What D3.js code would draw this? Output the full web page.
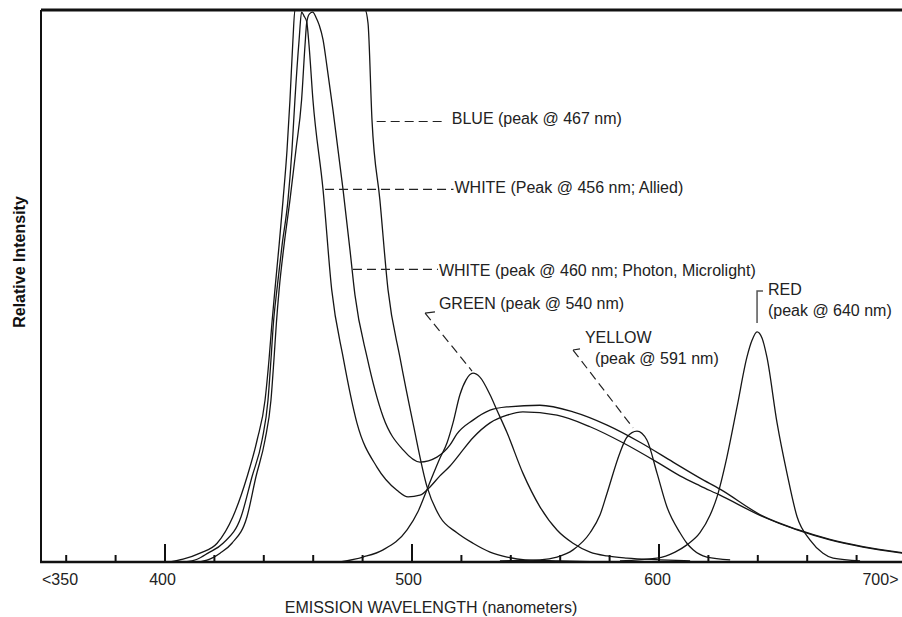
<!DOCTYPE html>
<html>
<head>
<meta charset="utf-8">
<script src="https://cdn.jsdelivr.net/npm/d3@7"></script>
<style>
  body { margin: 0; background: #fff; }
  svg { display: block; font-family: "Liberation Sans", Arial, sans-serif; }
</style>
</head>
<body>
<div id="vis"></div>
<script>
// [wavelength nm, relative intensity]  (100 = top of the frame, blue is clipped there)
const blue = [
  [402.2, 0], [407.5, 0.5], [414.4, 1.6], [421.3, 3.4], [427.7, 8.2], [433.4, 15.4], [437.5, 22.1],
  [440.7, 29.3], [442.3, 36.6], [443.5, 43.3], [444.7, 49.3], [446.4, 57.4], [448.0, 65.6], [449.6, 74.6],
  [450.8, 83.7], [452.0, 94.6], [452.8, 100], [467, 100], [481.2, 100], [482.4, 97.6], [484.0, 80.1],
  [487.2, 65.6], [490.5, 49.3], [495.3, 37.1], [500.6, 25.2], [506.3, 13.6], [511.5, 8.2], [518.4, 5.3],
  [524.9, 3.4], [531.8, 1.8], [538.7, 0.9], [546.0, 0.4], [560.1, 0.2], [576.3, 0]
];
const whiteAllied = [
  [408.3, 0], [413.2, 0.5], [417.6, 1.6], [423.7, 3.4], [431.0, 8.2], [435.4, 15.4], [439.5, 22.1],
  [441.9, 29.3], [443.1, 36.6], [444.1, 43.3], [445.5, 49.3], [447.6, 57.4], [450.0, 65.6], [451.6, 74.6],
  [452.8, 83.7], [454.5, 94.6], [455.5, 99.6], [456.5, 98.9], [457.6, 97.8], [458.5, 93.7], [460.1, 83.7],
  [464.2, 67.4], [467.7, 49.3], [472.3, 37.1], [477.9, 25.2], [486.0, 17.2], [494.1, 13.0], [498.6, 11.8],
  [503.4, 12.1], [507.5, 13.6], [511.5, 15.6], [515.6, 17.4], [519.6, 19.6], [524.9, 22.5], [531.8, 25.2],
  [538.7, 26.6], [545.1, 27.2], [558.9, 26.6], [572.3, 24.5], [585.6, 21.6], [599.4, 18.1], [608.7, 15.6],
  [616.8, 13.8], [624.9, 12.1], [642.3, 8.2], [656.1, 5.8], [669.4, 4.0], [682.8, 2.7], [698.6, 1.6]
];
const whitePhoton = [
  [414.4, 0], [419.2, 0.7], [422.5, 1.6], [427.3, 3.4], [433.4, 8.2], [437.0, 15.4], [440.7, 22.1],
  [443.1, 29.3], [444.3, 36.6], [445.3, 43.3], [446.4, 49.3], [448.4, 57.4], [450.8, 65.6], [453.2, 74.6],
  [455.5, 83.7], [456.9, 93.7], [457.6, 97.8], [458.7, 99.3], [460.0, 99.6], [461.3, 98.7], [462.6, 97.3],
  [464.2, 94.6], [465.8, 89.7], [468.2, 81.9], [472.3, 67.4], [475.1, 56.5], [477.1, 48.4], [482.0, 37.1],
  [488.5, 26.3], [496.6, 20.3], [503.4, 18.1], [510.3, 19.0], [515.6, 21.2], [518.4, 23.2], [524.9, 25.7],
  [531.8, 27.5], [538.7, 28.1], [552.0, 28.4], [565.4, 27.2], [579.2, 24.8], [592.5, 21.7], [605.9, 18.1],
  [616.8, 15.2], [624.9, 13.2], [642.3, 8.3], [656.1, 5.9], [669.4, 4.1], [682.8, 2.8], [698.6, 1.7]
];
const green = [
  [471.1, 0], [480.4, 0.9], [488.5, 2.2], [498.2, 5.8], [502.6, 9.1], [506.7, 13.6], [511.5, 18.8],
  [514.4, 21.6], [516.8, 25.2], [519.6, 30.3], [522.1, 33.0], [524.9, 34.2], [527.7, 33.5], [531.8, 30.3],
  [534.6, 27.5], [538.7, 23.4], [545.1, 16.1], [552.0, 10.0], [558.9, 5.8], [565.4, 3.4], [572.3, 1.8],
  [579.2, 1.1], [587.2, 0.7], [600.6, 0.4], [612.8, 0.2]
];
const yellow = [
  [535.8, 0.2], [552.0, 0.4], [558.9, 0.9], [565.4, 2.2], [572.3, 5.3], [576.3, 8.5], [579.2, 12.5],
  [584.4, 19.8], [587.2, 22.6], [591.3, 23.7], [595.3, 22.1], [599.4, 16.1], [603.4, 10.0], [608.7, 5.3],
  [611.5, 3.4], [614.0, 2.2], [619.6, 0.9], [629.0, 0.4]
];
const red = [
  [584.4, 0.2], [599.4, 0.7], [606.7, 1.8], [611.5, 3.1], [616.8, 5.3], [620.9, 8.5], [623.7, 11.8],
  [627.7, 19.0], [631.8, 28.1], [635.8, 37.1], [637.9, 40.2], [639.9, 41.7], [641.9, 40.6], [643.9, 37.1],
  [648.0, 25.2], [652.0, 16.1], [656.1, 8.2], [661.3, 4.0], [666.6, 1.6], [670.7, 0.7], [681.6, 0.2]
];

const majorTicks = [400, 500, 600];
const minorTicks = [360, 380, 420, 440, 460, 480, 520, 540, 560, 580, 620, 640, 660, 680];
const tickValues = [350, 400, 500, 600, 700];
const tickLabels = ["<350", "400", "500", "600", "700>"];

// callouts: leader (nm, intensity) and label lines
const notes = [
  { leader: [[485.9, 79.8], [512.2, 79.8]], dashed: true, at: [516.3, 79.4], lines: ["BLUE (peak @ 467 nm)"] },
  { leader: [[465.0, 67.5], [517.0, 67.5]], dashed: true, at: [517.4, 66.9], lines: ["WHITE (Peak @ 456 nm; Allied)"] },
  { leader: [[476.3, 53.0], [510.7, 53.0]], dashed: true, at: [511.1, 51.9], lines: ["WHITE (peak @ 460 nm; Photon, Microlight)"] },
  { leader: [[505.5, 45.1], [524.5, 34.6]], hook: [[505.5, 45.1], [509.5, 45.3]], dashed: true, at: [511.1, 45.8], lines: ["GREEN (peak @ 540 nm)"] },
  { leader: [[565.4, 38.4], [589.7, 24.3]], hook: [[565.4, 38.4], [568.2, 38.6]], dashed: true, at: [570.2, 39.7], lines: ["YELLOW", "(peak @ 591 nm)"], indent: [0, 10] },
  { leader: [[642.3, 49.1], [639.9, 49.1], [639.9, 43.3]], dashed: false, at: [644.3, 48.4], lines: ["RED", "(peak @ 640 nm)"] }
];

const width = 902, height = 617;

const x = d3.scaleLinear().domain([350, 700]).range([41, 905.5]);
const y = d3.scaleLinear().domain([0, 100]).range([562, 10]);

const svg = d3.select("#vis").append("svg")
  .attr("width", width)
  .attr("height", height);

svg.append("rect").attr("width", width).attr("height", height).attr("fill", "#fff");

svg.append("clipPath").attr("id", "plot")
  .append("rect")
  .attr("x", x(350)).attr("y", y(100))
  .attr("width", width - x(350)).attr("height", y(0) - y(100));

const line = d3.line()
  .x(d => x(d[0]))
  .y(d => y(d[1]))
  .curve(d3.curveMonotoneX);

svg.append("g")
  .attr("clip-path", "url(#plot)")
  .selectAll("path")
  .data([blue, whiteAllied, whitePhoton, green, yellow, red])
  .join("path")
  .attr("d", line)
  .attr("fill", "none")
  .attr("stroke", "#161616")
  .attr("stroke-width", 1.3);

// ticks point up into the plot
const ticks = svg.append("g").attr("transform", `translate(0,${y(0)})`);
ticks.append("g").call(d3.axisBottom(x).tickValues(minorTicks).tickSize(-7).tickFormat(""));
ticks.append("g").call(d3.axisBottom(x).tickValues(majorTicks).tickSize(-18).tickFormat(""));
ticks.selectAll(".domain").remove();
ticks.selectAll("line").attr("stroke", "#111").attr("stroke-width", 2);

// frame: left, top, bottom
svg.append("line").attr("x1", x(350)).attr("x2", x(350)).attr("y1", y(100)).attr("y2", y(0))
  .attr("stroke", "#111").attr("stroke-width", 2);
svg.append("line").attr("x1", x(350)).attr("x2", width).attr("y1", y(100)).attr("y2", y(100))
  .attr("stroke", "#111").attr("stroke-width", 3);
svg.append("line").attr("x1", x(350) - 1).attr("x2", width).attr("y1", y(0)).attr("y2", y(0))
  .attr("stroke", "#111").attr("stroke-width", 2.6);

const labelShift = [1, -2, -3, -1, -7];
svg.append("g")
  .selectAll("text")
  .data(tickValues)
  .join("text")
  .attr("x", (d, i) => x(d) + labelShift[i])
  .attr("y", 585)
  .attr("text-anchor", (d, i) => i === 0 ? "start" : i === tickValues.length - 1 ? "end" : "middle")
  .attr("font-size", 16)
  .attr("fill", "#222")
  .text((d, i) => tickLabels[i]);

svg.append("text")
  .attr("x", 431)
  .attr("y", 613)
  .attr("text-anchor", "middle")
  .attr("font-size", 16)
  .attr("fill", "#222")
  .text("EMISSION WAVELENGTH (nanometers)");

svg.append("text")
  .attr("transform", "translate(25,262) rotate(-90)")
  .attr("text-anchor", "middle")
  .attr("font-size", 16)
  .attr("font-weight", "bold")
  .attr("fill", "#111")
  .text("Relative Intensity");

// callouts
const seg = d3.line().x(d => x(d[0])).y(d => y(d[1]));
notes.forEach(n => {
  svg.append("path")
    .attr("d", seg(n.leader))
    .attr("fill", "none")
    .attr("stroke", n.dashed ? "#222" : "#555")
    .attr("stroke-width", n.dashed ? 1.2 : 1.5)
    .attr("stroke-dasharray", n.dashed ? "9,5" : null);
  if (n.hook) {
    svg.append("path")
      .attr("d", seg(n.hook))
      .attr("stroke", "#222")
      .attr("stroke-width", 1.2);
  }
  n.lines.forEach((t, i) => {
    svg.append("text")
      .attr("x", x(n.at[0]) + (n.indent ? n.indent[i] : 0))
      .attr("y", y(n.at[1]) + i * 21.5)
      .attr("font-size", 16)
      .attr("fill", "#222")
      .text(t);
  });
});
</script>
</body>
</html>
